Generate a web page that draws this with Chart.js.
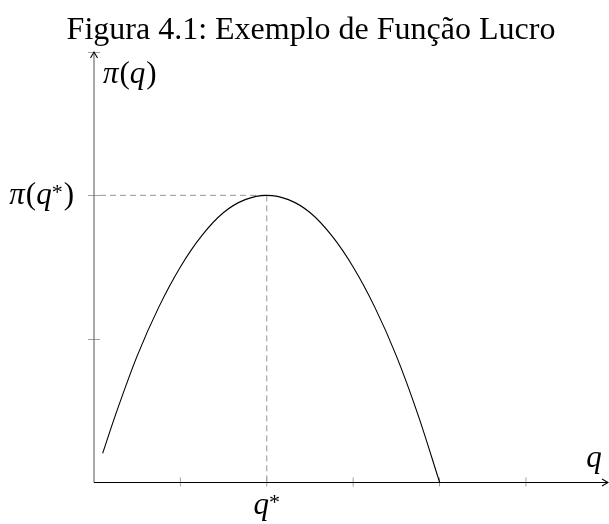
<!DOCTYPE html>
<html>
<head>
<meta charset="utf-8">
<title>Função Lucro</title>
<script src="https://cdn.jsdelivr.net/npm/chart.js@4.4.0/dist/chart.umd.min.js"></script>
<style>
  html, body { margin: 0; padding: 0; background: #fff; }
  #wrap { width: 609px; height: 524px; }
</style>
</head>
<body>
<div id="wrap"><canvas id="profitChart" width="609" height="524"></canvas></div>
<script>
// quantity q and profit pi(q) along the curve
var quantities = [0.1, 0.25, 0.5, 0.75, 1, 1.25, 1.5, 1.75, 2, 2.25, 2.5, 2.75, 3, 3.25, 3.5, 3.75, 4];
var profits = [0.2, 0.47, 0.88, 1.22, 1.5, 1.72, 1.88, 1.97, 2, 1.97, 1.88, 1.72, 1.5, 1.22, 0.88, 0.47, 0];

// tick marks on each axis
var xTicks = [1, 2, 3, 4, 5];
var yTicks = [1, 2, 3];

// optimum point
var qStar = 2;
var piStar = 2;

var titleText = 'Figura 4.1: Exemplo de Função Lucro';
var serif = '"Liberation Serif", "DejaVu Serif", serif';

// writes a row of text pieces, some italic, some upright
function drawPieces(ctx, pieces, x, y, align) {
  var total = 0;
  pieces.forEach(function(p) {
    ctx.font = (p.it ? 'italic ' : '') + p.size + 'px ' + serif;
    p.w = ctx.measureText(p.t).width;
    total += p.w + (p.gap || 0);
  });
  var cx = x;
  if (align === 'center') cx = x - total / 2;
  if (align === 'right') cx = x - total;
  ctx.textBaseline = 'alphabetic';
  ctx.textAlign = 'left';
  pieces.forEach(function(p) {
    ctx.font = (p.it ? 'italic ' : '') + p.size + 'px ' + serif;
    ctx.fillText(p.t, cx + (p.gap || 0), y - (p.rise || 0));
    cx += p.w + (p.gap || 0);
  });
}

var axesPlugin = {
  id: 'axesPlugin',
  beforeDatasetsDraw: function(chart) {
    var ctx = chart.ctx;
    var xs = chart.scales.x, ys = chart.scales.y;
    var x0 = xs.getPixelForValue(0), y0 = ys.getPixelForValue(0);
    var px = xs.getPixelForValue(qStar), py = ys.getPixelForValue(piStar);
    ctx.save();

    // dashed guides to the optimum
    ctx.strokeStyle = '#8a8a8a';
    ctx.lineWidth = 0.9;
    ctx.setLineDash([6, 4]);
    ctx.beginPath();
    ctx.moveTo(x0 + 6, py);
    ctx.lineTo(px, py);
    ctx.moveTo(px, py);
    ctx.lineTo(px, y0);
    ctx.stroke();
    ctx.setLineDash([]);

    // tick marks
    ctx.strokeStyle = '#a0a0a0';
    ctx.lineWidth = 1;
    ctx.beginPath();
    xTicks.forEach(function(t) {
      var tx = xs.getPixelForValue(t);
      ctx.moveTo(tx, y0 - 4.5);
      ctx.lineTo(tx, y0 + 4.5);
    });
    yTicks.forEach(function(t) {
      var ty = Math.round(ys.getPixelForValue(t)) + 0.5;
      ctx.moveTo(x0 - 6, ty);
      ctx.lineTo(x0 + 6, ty);
    });
    ctx.stroke();
    ctx.restore();
  },
  afterDatasetsDraw: function(chart) {
    var ctx = chart.ctx;
    var area = chart.chartArea;
    var xs = chart.scales.x, ys = chart.scales.y;
    var x0 = xs.getPixelForValue(0), y0 = Math.round(ys.getPixelForValue(0)) + 0.5;
    var xEnd = area.right, yTop = area.top;
    ctx.save();

    // vertical axis
    ctx.strokeStyle = '#707070';
    ctx.lineWidth = 1.2;
    ctx.beginPath();
    ctx.moveTo(x0, y0);
    ctx.lineTo(x0, yTop);
    ctx.stroke();

    // horizontal axis
    ctx.strokeStyle = '#000';
    ctx.lineWidth = 1;
    ctx.beginPath();
    ctx.moveTo(x0, y0);
    ctx.lineTo(xEnd, y0);
    ctx.stroke();

    // arrow heads
    ctx.lineWidth = 1.1;
    ctx.beginPath();
    ctx.moveTo(xEnd - 6, y0 - 3.5);
    ctx.lineTo(xEnd, y0);
    ctx.lineTo(xEnd - 6, y0 + 3.5);
    ctx.moveTo(x0 - 3.5, yTop + 6);
    ctx.lineTo(x0, yTop);
    ctx.lineTo(x0 + 3.5, yTop + 6);
    ctx.stroke();

    // labels
    ctx.fillStyle = '#000';
    var px = xs.getPixelForValue(qStar), py = ys.getPixelForValue(piStar);
    drawPieces(ctx, [
      {t: 'π', it: true, size: 31},
      {t: '(', size: 31, gap: 1},
      {t: 'q', it: true, size: 31},
      {t: ')', size: 31, gap: 1}
    ], x0 + 9, yTop + 31, 'left');
    drawPieces(ctx, [
      {t: 'π', it: true, size: 31},
      {t: '(', size: 31, gap: 1},
      {t: 'q', it: true, size: 31},
      {t: '*', size: 22, rise: 5},
      {t: ')', size: 31, gap: 1}
    ], x0 - 20, py + 9, 'right');
    drawPieces(ctx, [
      {t: 'q', it: true, size: 31},
      {t: '*', size: 22, rise: 5}
    ], px, y0 + 31, 'center');
    drawPieces(ctx, [
      {t: 'q', it: true, size: 31}
    ], xEnd - 14, y0 - 16, 'center');

    // caption
    ctx.font = '32px ' + serif;
    ctx.textAlign = 'center';
    ctx.fillText(titleText, 311, 39);
    ctx.restore();
  }
};

var points = quantities.map(function(q, i) {
  return {x: q, y: profits[i]};
});

var ctx = document.getElementById('profitChart').getContext('2d');
var myChart = new Chart(ctx, {
  type: 'line',
  data: {
    datasets: [{
      data: points,
      borderColor: '#000',
      borderWidth: 1.1,
      pointRadius: 0,
      fill: false,
      cubicInterpolationMode: 'monotone',
      clip: false
    }]
  },
  options: {
    responsive: false,
    animation: false,
    layout: {
      padding: {left: 94, right: 1, top: 52, bottom: 42}
    },
    scales: {
      x: {type: 'linear', min: 0, max: 5.95, display: false},
      y: {type: 'linear', min: 0, max: 3, display: false}
    },
    plugins: {
      legend: {display: false},
      tooltip: {enabled: false}
    }
  },
  plugins: [axesPlugin]
});
</script>
</body>
</html>
